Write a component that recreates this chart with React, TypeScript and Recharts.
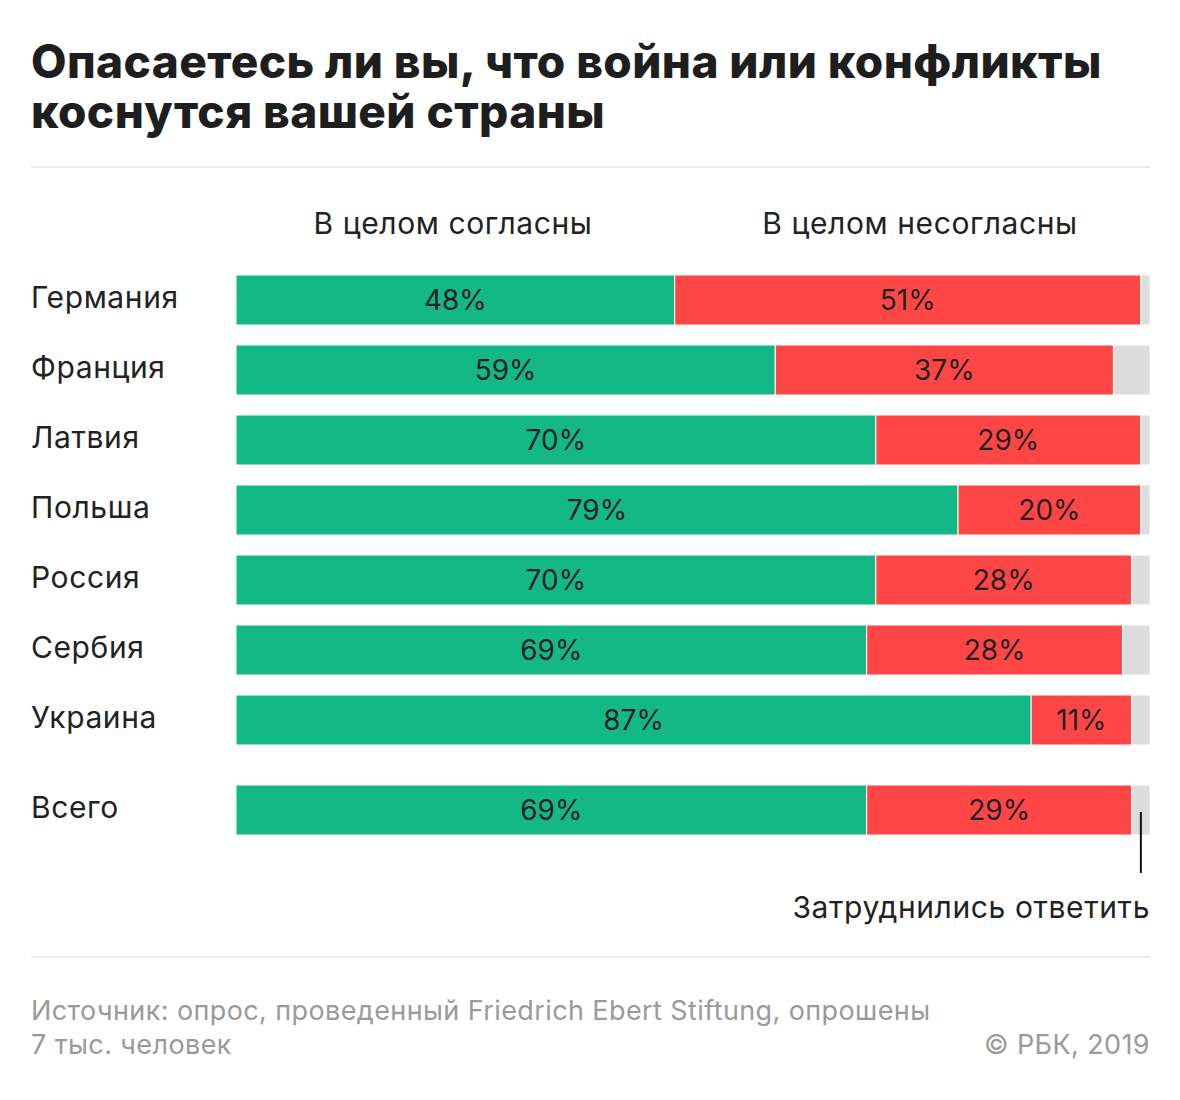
import React from 'react';
import { BarChart, Bar, XAxis, YAxis, LabelList } from 'recharts';

// Survey values, % of respondents
const countries = ['Германия', 'Франция', 'Латвия', 'Польша', 'Россия', 'Сербия', 'Украина'];
const agree = [48, 59, 70, 79, 70, 69, 87];
const disagree = [51, 37, 29, 20, 28, 28, 11];
const unsure = [1, 4, 1, 1, 2, 3, 2];

const totalLabel = ['Всего'];
const totalAgree = [69];
const totalDisagree = [29];
const totalUnsure = [2];

const titleLines = ['Опасаетесь ли вы, что война или конфликты', 'коснутся вашей страны'];

const GREEN = '#14b887';
const RED = '#ff4646';
const GRAY = '#dcdcdc';
const FONT = 'Inter, "Noto Sans", sans-serif';

const rows = countries.map((name, i) => ({ name, agree: agree[i], disagree: disagree[i], unsure: unsure[i] }));
const totalRows = totalLabel.map((name, i) => ({
  name,
  agree: totalAgree[i],
  disagree: totalDisagree[i],
  unsure: totalUnsure[i],
}));

const pct = (v: any) => `${v}%`;

const CountryTick = (props: any) => {
  const { y, payload } = props;
  return (
    <text x={31} y={y} dy={8} fill="#222" fontSize={30} letterSpacing={0.6} fontFamily={FONT} textAnchor="start">
      {payload.value}
    </text>
  );
};

// pointer + caption under the "unsure" segment of the total bar
const UnsureNote = (props: any) => {
  const { x, y, width, height } = props;
  const cx = x + width / 2;
  return (
    <g>
      <line x1={cx} x2={cx} y1={y + height / 2 + 2} y2={y + height + 38} stroke="#111" strokeWidth={2} />
      <text
        x={x + width}
        y={y + height + 83}
        fill="#222"
        fontSize={30}
        letterSpacing={0.6}
        fontFamily={FONT}
        textAnchor="end"
      >
        Затруднились ответить
      </text>
    </g>
  );
};

function Bars({ data, height, bottom, note }: { data: any[]; height: number; bottom: number; note?: boolean }) {
  const labelStyle = { fill: '#222', fontSize: 28, fontFamily: FONT };
  return (
    <BarChart
      layout="vertical"
      width={1180}
      height={height}
      data={data}
      margin={{ top: 0, right: 30, bottom, left: 31 }}
      barCategoryGap={10}
    >
      <XAxis type="number" domain={[0, 100]} hide />
      <YAxis type="category" dataKey="name" width={205} axisLine={false} tickLine={false} tick={<CountryTick />} />
      <Bar dataKey="agree" stackId="a" fill={GREEN} stroke="#fff" strokeWidth={1} barSize={50} isAnimationActive={false}>
        <LabelList dataKey="agree" position="center" formatter={pct} style={labelStyle} />
      </Bar>
      <Bar dataKey="disagree" stackId="a" fill={RED} stroke="#fff" strokeWidth={1} barSize={50} isAnimationActive={false}>
        <LabelList dataKey="disagree" position="center" formatter={pct} style={labelStyle} />
      </Bar>
      <Bar dataKey="unsure" stackId="a" fill={GRAY} stroke="#fff" strokeWidth={1} barSize={50} isAnimationActive={false}>
        {note && <LabelList dataKey="unsure" content={<UnsureNote />} />}
      </Bar>
    </BarChart>
  );
}

const headStyle: React.CSSProperties = {
  position: 'absolute',
  width: 400,
  top: 205,
  textAlign: 'center',
  fontSize: 30,
  letterSpacing: 0.6,
  color: '#222',
};

export default function App() {
  return (
    <div style={{ position: 'absolute', left: 0, top: 0, width: 1180, height: 1100, background: '#fff', fontFamily: FONT }}>
      {titleLines.map((line, i) => (
        <div
          key={i}
          style={{
            position: 'absolute',
            left: 31,
            top: 38 + i * 50,
            fontSize: 46,
            fontWeight: 800,
            lineHeight: '46px',
            color: '#1e1e1e',
            letterSpacing: 0.4,
            whiteSpace: 'nowrap',
          }}
        >
          {line}
        </div>
      ))}
      <div style={{ position: 'absolute', left: 31, top: 166, width: 1119, height: 2, background: '#ececec' }} />

      <div style={{ ...headStyle, left: 253 }}>В целом согласны</div>
      <div style={{ ...headStyle, left: 720 }}>В целом несогласны</div>

      <div style={{ position: 'absolute', left: 0, top: 265 }}>
        <Bars data={rows} height={490} bottom={0} />
      </div>
      <div style={{ position: 'absolute', left: 0, top: 775 }}>
        <Bars data={totalRows} height={170} bottom={100} note />
      </div>

      <div style={{ position: 'absolute', left: 31, top: 956, width: 1119, height: 2, background: '#ececec' }} />
      <div
        style={{
          position: 'absolute',
          left: 31,
          top: 994,
          fontSize: 27,
          letterSpacing: 0.4,
          lineHeight: '34px',
          color: '#9a9a9a',
        }}
      >
        Источник: опрос, проведенный Friedrich Ebert Stiftung, опрошены
        <br />7 тыс. человек
      </div>
      <div
        style={{
          position: 'absolute',
          right: 30,
          top: 1028,
          fontSize: 27,
          letterSpacing: 0.4,
          lineHeight: '34px',
          color: '#9a9a9a',
        }}
      >
        © РБК, 2019
      </div>
    </div>
  );
}
